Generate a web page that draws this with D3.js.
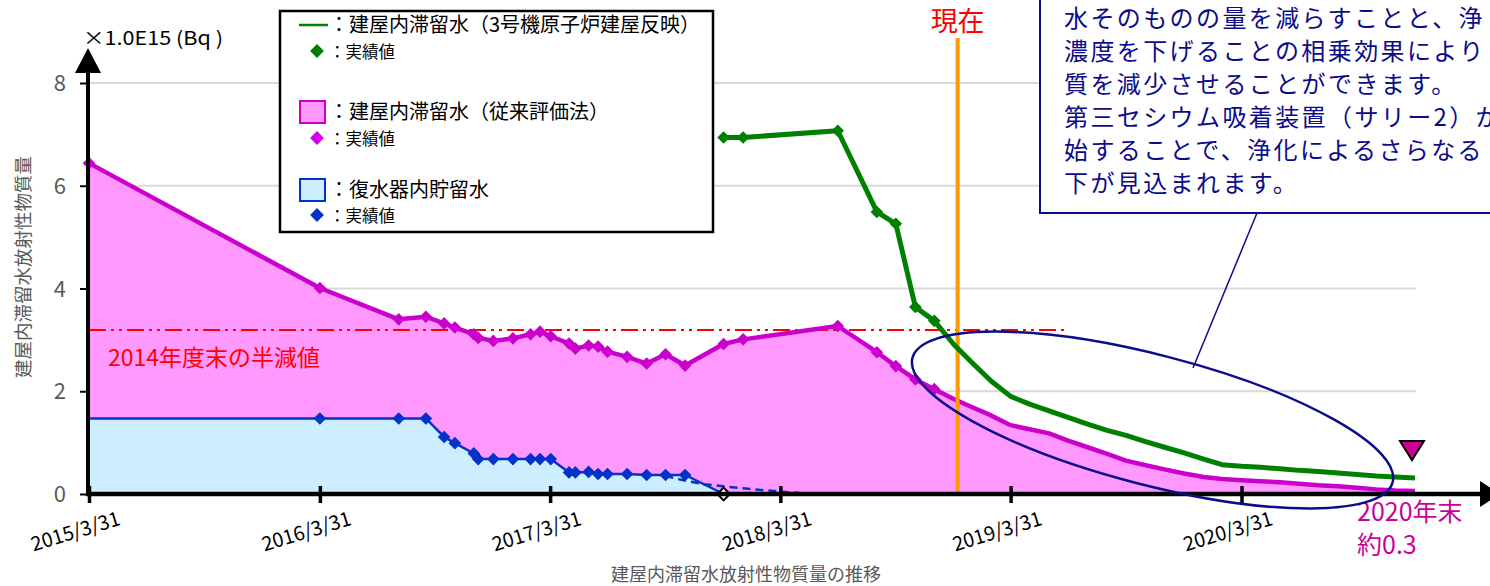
<!DOCTYPE html>
<html><head><meta charset="utf-8">
<script src="https://cdn.jsdelivr.net/npm/d3@7"></script>
<style>html,body{margin:0;padding:0;background:#fff;overflow:hidden}</style>
</head><body>
<svg id="chart" width="1490" height="586"></svg>
<script>
const FONT = '"Noto Sans CJK JP", "Noto Sans", sans-serif';

// ---------- data ----------
const xTickDates  = ["2015-03-31","2016-03-31","2017-03-31","2018-03-31","2019-03-31","2020-03-31"];
const xTickLabels = ["2015/3/31","2016/3/31","2017/3/31","2018/3/31","2019/3/31","2020/3/31"];
const yTicks = [0, 2, 4, 6, 8];

// 建屋内滞留水（従来評価法） 実績値
const pinkDates = ["2015-03-31","2016-03-31","2016-08-03","2016-09-15","2016-10-14","2016-10-31","2016-11-30","2016-12-07","2016-12-31","2017-01-31","2017-02-28","2017-03-15","2017-04-01","2017-04-30","2017-05-10","2017-05-31","2017-06-15","2017-06-30","2017-07-31","2017-08-31","2017-09-30","2017-10-31","2017-12-31","2018-01-31","2018-06-30","2018-08-31","2018-09-30","2018-10-31","2018-11-30"];
const pinkValues = [6.44,4.01,3.40,3.45,3.32,3.24,3.11,3.04,2.98,3.03,3.11,3.16,3.07,2.93,2.83,2.89,2.87,2.77,2.67,2.54,2.72,2.50,2.92,3.01,3.27,2.76,2.49,2.23,2.04];
// 建屋内滞留水（従来評価法） 見込み
const pinkForecastDates = ["2018-12-31","2019-01-31","2019-02-28","2019-03-31","2019-04-30","2019-05-31","2019-06-30","2019-07-31","2019-08-31","2019-09-30","2019-10-31","2019-11-30","2019-12-31","2020-01-31","2020-02-29","2020-03-31","2020-04-30","2020-05-31","2020-06-30","2020-07-31","2020-08-31","2020-09-30","2020-10-31","2020-11-30","2020-12-31"];
const pinkForecastValues = [1.85,1.68,1.53,1.34,1.26,1.18,1.04,0.91,0.78,0.65,0.56,0.48,0.40,0.33,0.29,0.27,0.25,0.23,0.20,0.17,0.15,0.12,0.09,0.07,0.06];

// 復水器内貯留水 実績値
const blueDates = ["2015-03-31","2016-03-31","2016-08-03","2016-09-15","2016-10-14","2016-10-31","2016-11-30","2016-12-07","2016-12-31","2017-01-31","2017-02-28","2017-03-15","2017-04-01","2017-04-30","2017-05-10","2017-05-31","2017-06-15","2017-06-30","2017-07-31","2017-08-31","2017-09-30","2017-10-31","2017-12-31"];
const blueValues = [1.47,1.47,1.47,1.47,1.11,0.99,0.79,0.68,0.68,0.68,0.68,0.68,0.68,0.42,0.42,0.43,0.39,0.39,0.39,0.37,0.37,0.37,0.0];
// 復水器内貯留水 見込み（破線）
const blueForecastDates = ["2017-09-30","2017-10-31","2017-11-30","2017-12-31","2018-01-31","2018-02-28","2018-03-31","2018-04-30"];
const blueForecastValues = [0.35,0.26,0.19,0.15,0.11,0.08,0.045,0.025];

// 建屋内滞留水（3号機原子炉建屋反映） 実績値
const greenDates = ["2017-12-31","2018-01-31","2018-06-30","2018-08-31","2018-09-30","2018-10-31","2018-11-30"];
const greenValues = [6.94,6.94,7.07,5.49,5.26,3.64,3.37];
// 建屋内滞留水（3号機原子炉建屋反映） 見込み
const greenForecastDates = pinkForecastDates;
const greenForecastValues = [2.91,2.53,2.20,1.90,1.75,1.62,1.49,1.36,1.24,1.14,1.02,0.91,0.80,0.68,0.57,0.54,0.52,0.49,0.46,0.44,0.41,0.38,0.35,0.33,0.31];

const halfValue = 3.19;                 // 2014年度末の半減値
const halfLineEnd = "2019-07-01";
const nowDate = "2019-01-06";           // 現在
const endDate = "2020-12-31";           // 2020年末
const endValue = 0.31;
const ellipseCenterDate = "2019-11-11";
const ellipseCenterValue = 1.44;

const legendItems = [
  {type:"line",  color:"#008000", label:"建屋内滞留水（3号機原子炉建屋反映）", mark:"#008000"},
  {type:"rect",  fill:"#ff99ff", stroke:"#cc00cc", label:"建屋内滞留水（従来評価法）", mark:"#d800ec"},
  {type:"rect",  fill:"#cceeff", stroke:"#0033cc", label:"復水器内貯留水", mark:"#0033cc"}
];
const calloutLines = [
  "水そのものの量を減らすことと、浄",
  "濃度を下げることの相乗効果により",
  "質を減少させることができます。",
  "第三セシウム吸着装置（サリー2）が",
  "始することで、浄化によるさらなる",
  "下が見込まれます。"
];

// ---------- setup ----------
const parse = d3.timeParse("%Y-%m-%d");
const svg = d3.select("#chart").style("font-family", FONT);

const x = d3.scaleTime().domain([parse("2015-03-31"), parse("2020-03-31")]).range([89, 1241.5]);
const y = d3.scaleLinear().domain([0, 8]).range([494, 83]);

const zip = (ds, vs) => ds.map((d, i) => ({date: parse(d), value: vs[i]}));
const pink = zip(pinkDates, pinkValues);
const pinkF = zip(pinkForecastDates, pinkForecastValues);
const pinkAll = pink.concat(pinkF);
const blue = zip(blueDates, blueValues);
const blueF = zip(blueForecastDates, blueForecastValues);
const green = zip(greenDates, greenValues);
const greenAll = green.concat(zip(greenForecastDates, greenForecastValues));

const gridEnd = x(parse(endDate)) + 1;

// gridlines
svg.append("g").selectAll("line").data(yTicks.filter(v => v > 0)).join("line")
  .attr("x1", x.range()[0]).attr("x2", gridEnd)
  .attr("y1", d => y(d)).attr("y2", d => y(d))
  .attr("stroke", "#d9d9d9").attr("stroke-width", 2);

// areas
const area = d3.area().x(d => x(d.date)).y0(y(0)).y1(d => y(d.value));
svg.append("path").datum(pinkAll).attr("d", area).attr("fill", "#ff99ff");
svg.append("path").datum(blue).attr("d", area).attr("fill", "#cceeff");

// half value line
svg.append("line")
  .attr("x1", x(parse("2015-03-31"))).attr("x2", x(parse(halfLineEnd)))
  .attr("y1", y(halfValue)).attr("y2", y(halfValue))
  .attr("stroke", "#ff0000").attr("stroke-width", 2)
  .attr("stroke-dasharray", "17,5,3,5,3,5");
svg.append("text").attr("x", 108).attr("y", 366)
  .attr("fill", "#ff0000").attr("font-size", 23).text("2014年度末の半減値");

// lines
const line = d3.line().x(d => x(d.date)).y(d => y(d.value));
svg.append("path").datum(blueF).attr("d", line).attr("fill", "none")
  .attr("stroke", "#0033cc").attr("stroke-width", 2.5).attr("stroke-dasharray", "8,5");
svg.append("path").datum(blue).attr("d", line).attr("fill", "none")
  .attr("stroke", "#0033cc").attr("stroke-width", 2.5);
svg.append("path").datum(pinkAll).attr("d", line).attr("fill", "none")
  .attr("stroke", "#cc00cc").attr("stroke-width", 4.5).attr("stroke-linejoin", "round");

// now line
svg.append("line")
  .attr("x1", x(parse(nowDate))).attr("x2", x(parse(nowDate)))
  .attr("y1", 38).attr("y2", y(0))
  .attr("stroke", "#ff9900").attr("stroke-width", 4);
svg.append("text").attr("x", x(parse(nowDate))).attr("y", 31)
  .attr("text-anchor", "middle").attr("fill", "#ff0000").attr("font-size", 27).text("現在");

svg.append("path").datum(greenAll).attr("d", line).attr("fill", "none")
  .attr("stroke", "#008000").attr("stroke-width", 5).attr("stroke-linejoin", "round");

// markers
const diamond = d3.symbol().type(d3.symbolSquare).size(80);
function markers(data, color) {
  svg.append("g").selectAll("path").data(data).join("path")
    .attr("d", diamond)
    .attr("transform", d => `translate(${x(d.date)},${y(d.value)}) rotate(45)`)
    .attr("fill", color);
}
markers(pink, "#cc00cc");
markers(blue.slice(1, -1), "#0033cc");
markers(green, "#008000");
// zero point (hollow)
svg.append("path").attr("d", diamond)
  .attr("transform", `translate(${x(blue[blue.length-1].date)},${y(0)}) rotate(45)`)
  .attr("fill", "#fff").attr("stroke", "#000").attr("stroke-width", 2);

// axes
const gAxis = svg.append("g");
gAxis.append("line").attr("x1", 88).attr("x2", 88).attr("y1", 70).attr("y2", y(0) + 2)
  .attr("stroke", "#000").attr("stroke-width", 4);
gAxis.append("path").attr("d", "M88,48 L101,73 L75,73 Z").attr("fill", "#000");
gAxis.append("line").attr("x1", 86).attr("x2", 1482).attr("y1", y(0)).attr("y2", y(0))
  .attr("stroke", "#000").attr("stroke-width", 4.5);
gAxis.append("path").attr("d", `M1480,${y(0)-13} L1500,${y(0)} L1480,${y(0)+13} Z`).attr("fill", "#000");

// y ticks
const yAx = d3.axisLeft(y).tickValues(yTicks).tickSize(8).tickFormat(d3.format("d"));
const gy = svg.append("g").attr("transform", "translate(88,0)").call(yAx);
gy.select(".domain").remove();
gy.selectAll(".tick line").attr("stroke", "#000").attr("stroke-width", 2);
gy.selectAll(".tick text").attr("fill", "#595959").attr("font-size", 22)
  .attr("font-family", FONT).attr("x", -22).attr("dy", "0.35em");

// x ticks
const xAx = d3.axisBottom(x).tickValues(xTickDates.map(parse)).tickSize(0)
  .tickFormat((d, i) => xTickLabels[i]);
const gx = svg.append("g").attr("transform", `translate(0,${y(0)})`).call(xAx);
gx.select(".domain").remove();
gx.selectAll(".tick").append("line").attr("x1", 0).attr("x2", 0).attr("y1", -8).attr("y2", 9)
  .attr("stroke", "#000").attr("stroke-width", 3.5);
gx.selectAll(".tick text").attr("fill", "#000").attr("font-size", 20).attr("font-family", FONT)
  .attr("text-anchor", "middle").attr("y", 0).attr("dy", 0)
  .attr("textLength", 92).attr("lengthAdjust", "spacingAndGlyphs")
  .attr("transform", "translate(-12,44) rotate(-17)");

// axis titles
svg.append("text").attr("transform", "translate(22,267) rotate(-90)")
  .attr("text-anchor", "middle").attr("dominant-baseline", "central")
  .attr("fill", "#595959").attr("font-size", 18.5).text("建屋内滞留水放射性物質量");
svg.append("text").attr("x", 746).attr("y", 581).attr("text-anchor", "middle")
  .attr("fill", "#595959").attr("font-size", 18).text("建屋内滞留水放射性物質量の推移");
svg.append("text").attr("x", 83).attr("y", 45).attr("fill", "#000").attr("font-size", 19)
  .attr("textLength", 140).attr("lengthAdjust", "spacingAndGlyphs").text("×1.0E15 (Bq )");

// end marker & label
const ex = x(parse(endDate)) - 3;
svg.append("path").attr("d", `M${ex-12},${y(endValue)-37} L${ex+12},${y(endValue)-37} L${ex},${y(endValue)-18} Z`)
  .attr("fill", "#cc0099").attr("stroke", "#000").attr("stroke-width", 2).attr("stroke-linejoin", "miter");
svg.append("text").attr("x", 1357).attr("y", 521).attr("fill", "#cc0099").attr("font-size", 25).text("2020年末");
svg.append("text").attr("x", 1357).attr("y", 554).attr("fill", "#cc0099").attr("font-size", 25).text("約0.3");

// ellipse
svg.append("ellipse")
  .attr("transform", `translate(${x(parse(ellipseCenterDate))},${y(ellipseCenterValue)}) rotate(14.5)`)
  .attr("rx", 248).attr("ry", 65).attr("fill", "none")
  .attr("stroke", "#0c0c8a").attr("stroke-width", 2.5);

// callout
svg.append("line").attr("x1", 1257).attr("y1", 213).attr("x2", 1193).attr("y2", 368)
  .attr("stroke", "#0c0c8a").attr("stroke-width", 1.5);
svg.append("rect").attr("x", 1040).attr("y", -10).attr("width", 500).attr("height", 223)
  .attr("fill", "#fff").attr("stroke", "#0c0c8a").attr("stroke-width", 2);
svg.append("g").selectAll("text").data(calloutLines).join("text")
  .attr("x", 1064).attr("y", (d, i) => 27 + i * 33)
  .attr("fill", "#0c0c8a").attr("font-size", 24).attr("letter-spacing", 2.4)
  .text(d => d);

// legend
const lg = svg.append("g");
lg.append("rect").attr("x", 280).attr("y", 11).attr("width", 433).attr("height", 221)
  .attr("fill", "#fff").attr("stroke", "#000").attr("stroke-width", 2.5);
const rowY = [[25, 51], [112, 138], [190, 215]];
legendItems.forEach((it, i) => {
  const [y1, y2] = rowY[i];
  if (it.type === "line") {
    lg.append("line").attr("x1", 299).attr("x2", 328).attr("y1", y1).attr("y2", y1)
      .attr("stroke", it.color).attr("stroke-width", 2.5);
  } else {
    lg.append("rect").attr("x", 300).attr("y", y1 - 11).attr("width", 25).attr("height", 22)
      .attr("fill", it.fill).attr("stroke", it.stroke).attr("stroke-width", 2);
  }
  lg.append("text").attr("x", 329).attr("y", y1 + 7).attr("font-size", 20).attr("fill", "#000")
    .text("：" + it.label);
  lg.append("path").attr("d", d3.symbol().type(d3.symbolSquare).size(95))
    .attr("transform", `translate(317,${y2}) rotate(45)`).attr("fill", it.mark);
  lg.append("text").attr("x", 329).attr("y", y2 + 7).attr("font-size", 16.5).attr("fill", "#000")
    .text("：実績値");
});
</script>
</body></html>
